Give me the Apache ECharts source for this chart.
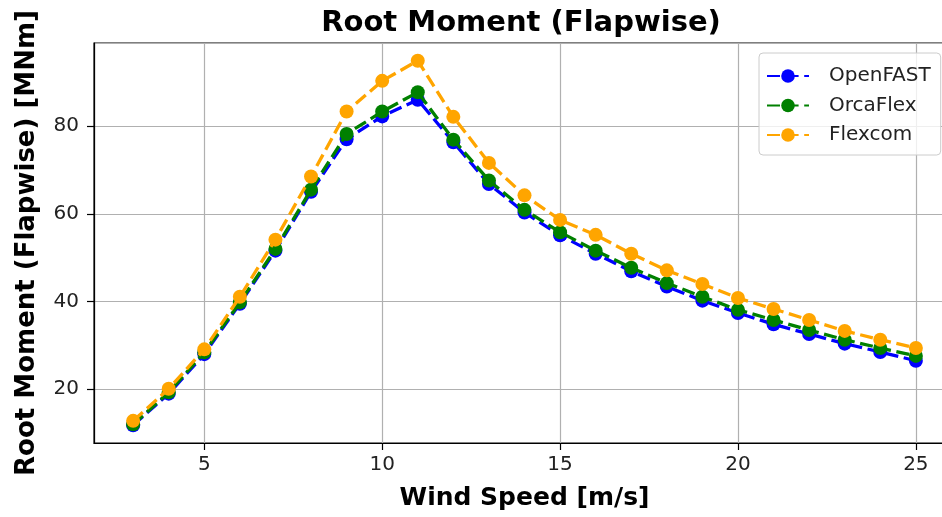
<!DOCTYPE html>
<html>
<head>
<meta charset="utf-8">
<script src="https://cdn.jsdelivr.net/npm/echarts@6/dist/echarts.min.js"></script>
<style>html,body{margin:0;padding:0;background:#fff;}#c{width:942px;height:517px;}</style>
</head>
<body>
<div id="c"></div>
<script>
const windSpeed = [3,4,5,6,7,8,9,10,11,12,13,14,15,16,17,18,19,20,21,22,23,24,25];
const openFAST = [11.8,19.0,28.0,39.5,51.6,65.0,77.0,82.2,86.0,76.3,66.8,60.3,55.1,50.9,46.9,43.4,40.2,37.4,34.8,32.6,30.4,28.5,26.5];
const orcaFlex = [12.0,19.3,28.4,39.8,52.0,65.5,78.2,83.3,87.7,76.9,67.6,60.9,55.8,51.6,47.7,44.2,41.1,38.1,35.8,33.5,31.3,29.4,27.6];
const flexcom  = [12.8,20.1,29.1,41.1,54.1,68.5,83.3,90.3,94.9,82.1,71.6,64.2,58.6,55.2,50.9,47.1,44.0,40.8,38.3,35.8,33.3,31.3,29.4];
const seriesNames = ['OpenFAST','OrcaFlex','Flexcom'];
const seriesColors = ['#0000ff','#008000','#ffa500'];
const seriesData = [openFAST, orcaFlex, flexcom];

const FONT = 'DejaVu Sans';
const chart = echarts.init(document.getElementById('c'), null, {renderer:'canvas'});
const fmt = v => (Math.abs(v % 5) < 1e-9 ? String(v) : '');
const fmtY = v => (Math.abs(v % 20) < 1e-9 ? String(v) : '');

chart.setOption({
  animation: false,
  backgroundColor: '#fff',
  title: {
    text: 'Root Moment (Flapwise)',
    left: 521, top: 9, padding: 0, textAlign: 'center',
    textStyle: {fontFamily: FONT, fontWeight: 'bold', fontSize: 29, color: '#000'}
  },
  grid: {
    left: 94, top: 43, width: 861, height: 400,
    show: true, borderColor: '#000', borderWidth: 1.2,
    containLabel: false, outerBoundsMode: 'none'
  },
  legend: {
    orient: 'vertical', left: 759, top: 53,
    padding: [13, 10, 10, 7],
    itemGap: 9.5, itemWidth: 42, itemHeight: 17,
    backgroundColor: 'rgba(255,255,255,0.8)',
    borderColor: '#cccccc', borderWidth: 1, borderRadius: 4,
    textStyle: {fontFamily: FONT, fontSize: 20, color: '#222', padding: [0,0,0,15]},
    data: seriesNames
  },
  xAxis: {
    type: 'value', min: 1.9, max: 26.1, splitNumber: 5,
    name: 'Wind Speed [m/s]', nameLocation: 'middle', nameGap: 43,
    nameTextStyle: {fontFamily: FONT, fontWeight: 'bold', fontSize: 25, color: '#000'},
    axisLine: {show: true, lineStyle: {color: '#000', width: 1.2}},
    axisTick: {show: true, length: 7, lineStyle: {color: '#000', width: 1.2}},
    axisLabel: {show: true, showMinLabel: false, showMaxLabel: false, margin: 12, formatter: fmt,
      fontFamily: FONT, fontSize: 20, color: '#222'},
    splitLine: {show: true, lineStyle: {color: '#b0b0b0', width: 1.2}}
  },
  yAxis: {
    type: 'value', min: 7.75, max: 98.93, splitNumber: 5,
    name: 'Root Moment (Flapwise) [MNm]', nameLocation: 'middle', nameGap: 54,
    nameTextStyle: {fontFamily: FONT, fontWeight: 'bold', fontSize: 26, color: '#000'},
    axisLine: {show: true, lineStyle: {color: '#000', width: 1.2}},
    axisTick: {show: true, length: 7, lineStyle: {color: '#000', width: 1.2}},
    axisLabel: {show: true, showMinLabel: false, showMaxLabel: false, margin: 15, formatter: fmtY,
      fontFamily: FONT, fontSize: 20, color: '#222'},
    splitLine: {show: true, lineStyle: {color: '#b0b0b0', width: 1.2}}
  },
  series: seriesNames.map((name, i) => ({
    name: name,
    type: 'line',
    data: windSpeed.map((x, j) => [x, seriesData[i][j]]),
    symbol: 'circle', symbolSize: 14,
    showAllSymbol: true,
    lineStyle: {color: seriesColors[i], width: 3.3, type: [13, 5.6]},
    itemStyle: {color: seriesColors[i]},
    z: 2 + i
  }))
});
</script>
</body>
</html>
